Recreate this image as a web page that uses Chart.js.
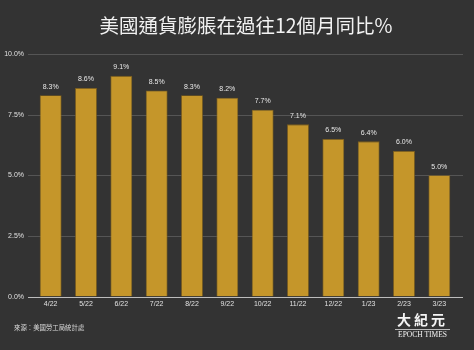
<!DOCTYPE html>
<html>
<head>
<meta charset="utf-8">
<script src="https://cdn.jsdelivr.net/npm/chart.js@4.4.0/dist/chart.umd.min.js"></script>
<style>
  html, body { margin: 0; padding: 0; background: #333333; }
  #wrap { position: relative; width: 474px; height: 350px; }
  #title { position: absolute; left: 9px; width: 474px; top: 10px; text-align: center;
    color: #f2f2f2; font: 19.5px "Noto Sans CJK TC", sans-serif; }
  #source { position: absolute; left: 14px; top: 323px; color: #d8d8d8;
    font: 6.4px "Noto Sans CJK TC", sans-serif; }
  #logo { position: absolute; left: 395px; top: 312px; width: 55px; text-align: center; color: #f4f4f4; }
  #logo .cn { font: bold 14px "Noto Sans CJK TC", serif; letter-spacing: 3px; line-height: 15px; }
  #logo .en { font: 7.5px "Liberation Serif", serif; border-top: 1px solid #bbb; line-height: 10px; margin-top: 2px; }
  canvas { position: absolute; left: 0; top: 0; }
</style>
</head>
<body>
<div id="wrap">
  <canvas id="chart" width="474" height="350"></canvas>
  <div id="title">美國通貨膨脹在過往12個月同比%</div>
  <div id="source">來源：美國勞工局統計處</div>
  <div id="logo"><div class="cn">大紀元</div><div class="en">EPOCH TIMES</div></div>
</div>
<script>
// months and year-over-year CPI change
const months = ['4/22', '5/22', '6/22', '7/22', '8/22', '9/22', '10/22', '11/22', '12/22', '1/23', '2/23', '3/23'];
const cpiYoY = [8.3, 8.6, 9.1, 8.5, 8.3, 8.2, 7.7, 7.1, 6.5, 6.4, 6.0, 5.0];
const yTicks = [0, 2.5, 5, 7.5, 10];

// gridlines run a few px past the bar area on both sides
const wideGrid = {
  id: 'wideGrid',
  beforeDatasetsDraw(chart) {
    const { ctx, chartArea, scales } = chart;
    const x0 = chartArea.left - 5, x1 = chartArea.right + 6;
    ctx.save();
    yTicks.forEach(v => {
      const y = Math.round(scales.y.getPixelForValue(v)) + 0.5;
      ctx.strokeStyle = v === 0 ? '#bdbdbd' : '#555555';
      ctx.lineWidth = 1;
      ctx.beginPath();
      ctx.moveTo(x0, y);
      ctx.lineTo(x1, y);
      ctx.stroke();
    });
    ctx.restore();
  }
};

// value labels above each bar
const barLabels = {
  id: 'barLabels',
  afterDatasetsDraw(chart) {
    const ctx = chart.ctx;
    const meta = chart.getDatasetMeta(0);
    ctx.save();
    ctx.fillStyle = '#e8e8e8';
    ctx.font = '7px "Liberation Sans", Arial, sans-serif';
    ctx.textAlign = 'center';
    ctx.textBaseline = 'bottom';
    meta.data.forEach((bar, i) => {
      ctx.fillText(cpiYoY[i].toFixed(1) + '%', bar.x, bar.y - 5);
    });
    ctx.restore();
  }
};

new Chart(document.getElementById('chart'), {
  type: 'bar',
  data: {
    labels: months,
    datasets: [{
      data: cpiYoY,
      backgroundColor: '#c5962a',
      borderColor: '#7a5c1c',
      borderWidth: 0.8,
      categoryPercentage: 1,
      barPercentage: 0.62
    }]
  },
  options: {
    responsive: false,
    animation: false,
    layout: { padding: { left: 0, right: 17, top: 54, bottom: 39 } },
    plugins: { legend: { display: false }, tooltip: { enabled: false } },
    scales: {
      x: {
        grid: { display: false, drawTicks: false },
        border: { display: false },
        ticks: { color: '#e0e0e0', font: { size: 7, family: '"Liberation Sans", Arial' }, padding: 3, maxRotation: 0 }
      },
      y: {
        min: 0, max: 10,
        afterBuildTicks(axis) { axis.ticks = yTicks.map(v => ({ value: v })); },
        afterFit(axis) { axis.width = 33; },
        grid: { display: false, drawTicks: false },
        border: { display: false },
        ticks: {
          color: '#e0e0e0', padding: 9,
          font: { size: 7, family: '"Liberation Sans", Arial' },
          callback: v => v.toFixed(1) + '%'
        }
      }
    }
  },
  plugins: [wideGrid, barLabels]
});
</script>
</body>
</html>
